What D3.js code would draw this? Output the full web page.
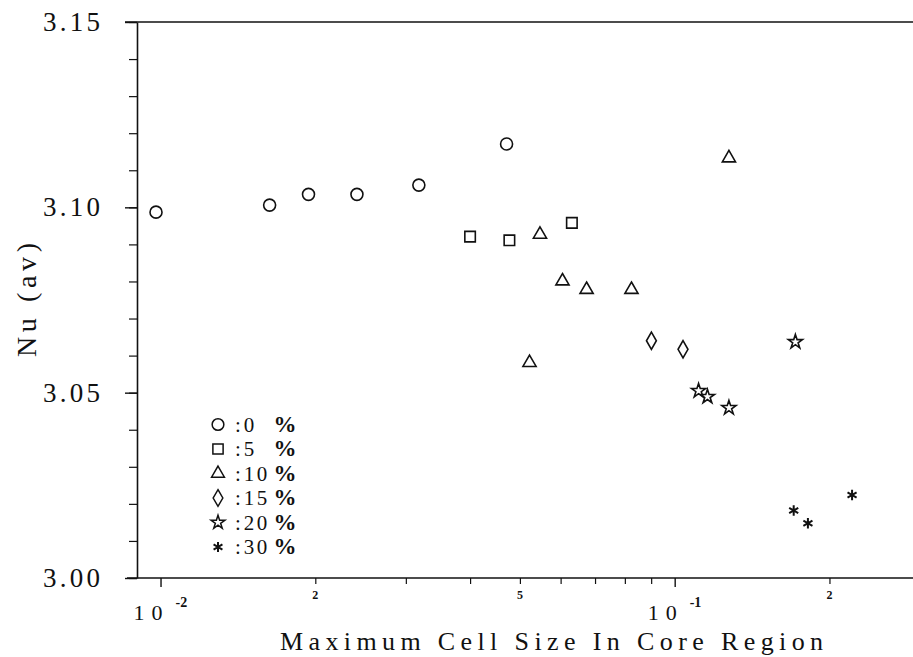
<!DOCTYPE html>
<html>
<head>
<meta charset="utf-8">
<script src="https://cdn.jsdelivr.net/npm/d3@7"></script>
<style>
	body { margin: 0; background: #fff; }
	svg { display: block; }
</style>
</head>
<body>
<script>
// Nu (av) against max cell size in the core region, one series per percentage
const groups = ["0 %", "5 %", "10%", "15%", "20%", "30%"];
const pct0 = [[0.0098, 3.0987], [0.0163, 3.1006], [0.0194, 3.1035], [0.0241, 3.1035], [0.0318, 3.1060], [0.0471, 3.1171]];
const pct5 = [[0.0400, 3.0921], [0.0477, 3.0911], [0.0631, 3.0958]];
const pct10 = [[0.0547, 3.0927], [0.0605, 3.0801], [0.0674, 3.0778], [0.0824, 3.0778], [0.0522, 3.0581], [0.1275, 3.1133]];
const pct15 = [[0.0901, 3.0640], [0.1038, 3.0617]];
const pct20 = [[0.1113, 3.0505], [0.1158, 3.0489], [0.1275, 3.0459], [0.1717, 3.0637]];
const pct30 = [[0.1704, 3.0182], [0.1816, 3.0148], [0.2213, 3.0224]];

const yMajorTicks = [3.00, 3.05, 3.10, 3.15];
const yMinorTicks = [3.00, 3.01, 3.02, 3.03, 3.04, 3.05, 3.06, 3.07, 3.08, 3.09, 3.10, 3.11, 3.12, 3.13, 3.14, 3.15];
const xDecadeTicks = [0.01, 0.1];
const xMinorTicks = [0.02, 0.03, 0.04, 0.05, 0.06, 0.07, 0.08, 0.09, 0.2];
const xSmallLabels = [[0.02, "2"], [0.05, "5"], [0.2, "2"]];
const xPowerLabels = [[0.01, "10", "-2"], [0.1, "10", "-1"]];

const width = 913;
const height = 657;
const margin = { top: 22, right: -7, bottom: 79, left: 137 };
const font = "'Liberation Serif', 'Times New Roman', serif";

// custom six-armed asterisk marker
const symbolAsterisk = {
	draw(context, size) {
		const r = Math.sqrt(size) / 2;
		for (const a of [90, 30, -30]) {
			const dx = r * Math.cos(a * Math.PI / 180);
			const dy = r * Math.sin(a * Math.PI / 180);
			context.moveTo(-dx, -dy);
			context.lineTo(dx, dy);
		}
	}
};

const series = [pct0, pct5, pct10, pct15, pct20, pct30];
const markers = [
	{ type: d3.symbolCircle, size: 113 },
	{ type: d3.symbolSquare, size: 110 },
	{ type: d3.symbolTriangle, size: 75 },
	{ type: d3.symbolDiamond, size: 85 },
	{ type: d3.symbolStar, size: 62 },
	{ type: symbolAsterisk, size: 110 },
];

const svg = d3.select("body")
	.append("svg")
	.attr("width", width)
	.attr("height", height)
	.style("font-family", font);

const x = d3.scaleLog()
	.domain([0.009, 0.3])
	.range([margin.left, width - margin.right]);
const y = d3.scaleLinear()
	.domain([3.0, 3.15])
	.range([height - margin.bottom, margin.top]);

// top border
svg.append("line")
	.attr("x1", margin.left - 12)
	.attr("x2", width - margin.right)
	.attr("y1", y(3.15))
	.attr("y2", y(3.15))
	.attr("stroke", "#111")
	.attr("stroke-width", 1.6);

// y axis: minor ticks then labelled majors
svg.append("g")
	.attr("transform", `translate(${margin.left},0)`)
	.call(d3.axisLeft(y).tickValues(yMinorTicks).tickSize(8).tickFormat(""))
	.call(g => g.select(".domain").remove())
	.call(g => g.selectAll("line").attr("stroke", "#111").attr("stroke-width", 1.2));

const yAxis = svg.append("g")
	.attr("transform", `translate(${margin.left},0)`)
	.call(d3.axisLeft(y).tickValues(yMajorTicks).tickSize(12).tickSizeOuter(0).tickPadding(25).tickFormat(d3.format(".2f")));
yAxis.select(".domain").attr("stroke", "#111").attr("stroke-width", 1.6);
yAxis.selectAll("line").attr("stroke", "#111").attr("stroke-width", 1.4);
yAxis.selectAll("text")
	.attr("fill", "#111")
	.style("font-family", font)
	.style("font-size", "27px")
	.attr("textLength", 57)
	.attr("lengthAdjust", "spacing");

// x axis
const xAxisY = height - margin.bottom;
svg.append("g")
	.attr("transform", `translate(0,${xAxisY})`)
	.call(d3.axisBottom(x).tickValues(xMinorTicks).tickSize(6).tickFormat(""))
	.call(g => g.select(".domain").remove())
	.call(g => g.selectAll("line").attr("stroke", "#111").attr("stroke-width", 1.2));

const xAxis = svg.append("g")
	.attr("transform", `translate(0,${xAxisY})`)
	.call(d3.axisBottom(x).tickValues(xDecadeTicks).tickSize(9).tickSizeOuter(0).tickFormat(""));
xAxis.select(".domain")
	.attr("d", `M${margin.left - 10},0H${width - margin.right}`)
	.attr("stroke", "#111")
	.attr("stroke-width", 1.6);
xAxis.selectAll("line").attr("stroke", "#111").attr("stroke-width", 1.4);

svg.append("g")
	.selectAll("text")
	.data(xSmallLabels)
	.enter()
	.append("text")
	.attr("x", d => x(d[0]))
	.attr("y", xAxisY + 21)
	.attr("text-anchor", "middle")
	.style("font-size", "12px")
	.style("font-weight", "bold")
	.attr("fill", "#111")
	.text(d => d[1]);

const powers = svg.append("g")
	.selectAll("g")
	.data(xPowerLabels)
	.enter()
	.append("g")
	.attr("transform", d => `translate(${x(d[0])},${xAxisY + 42})`);
powers.append("text")
	.attr("x", 2)
	.attr("text-anchor", "end")
	.style("font-size", "22px")
	.attr("textLength", 29)
	.attr("fill", "#111")
	.text(d => d[1]);
powers.append("text")
	.attr("x", 15)
	.attr("y", -13)
	.style("font-size", "14px")
	.style("font-weight", "bold")
	.attr("fill", "#111")
	.text(d => d[2]);

// axis titles
svg.append("text")
	.attr("x", 280)
	.attr("y", 650)
	.attr("textLength", 543)
	.attr("lengthAdjust", "spacing")
	.style("font-size", "26px")
	.attr("fill", "#111")
	.text("Maximum Cell Size In Core Region");

svg.append("text")
	.attr("transform", "translate(36,357) rotate(-90)")
	.attr("textLength", 114)
	.attr("lengthAdjust", "spacing")
	.style("font-size", "28px")
	.attr("fill", "#111")
	.text("Nu (av)");

// markers
const symbol = d3.symbol();
series.forEach((points, i) => {
	svg.append("g")
		.selectAll("path")
		.data(points)
		.enter()
		.append("path")
		.attr("transform", d => `translate(${x(d[0])},${y(d[1])})`)
		.attr("d", symbol.type(markers[i].type).size(markers[i].size)())
		.attr("fill", "none")
		.attr("stroke", "#111")
		.attr("stroke-width", i === 5 ? 2 : 1.6);
});

// legend
const legendX = 218;
const legendY = 424.5;
const legendStep = 24.5;
const charX = [238, 249, 262, 285];
const legend = svg.append("g")
	.selectAll("g")
	.data(groups)
	.enter()
	.append("g")
	.attr("transform", (d, i) => `translate(0,${legendY + i * legendStep})`);
legend.append("path")
	.attr("transform", `translate(${legendX},0)`)
	.attr("d", (d, i) => symbol.type(markers[i].type).size(markers[i].size * 0.95)())
	.attr("fill", "none")
	.attr("stroke", "#111")
	.attr("stroke-width", (d, i) => i === 5 ? 2 : 1.5);
legend.selectAll("text")
	.data(d => (":" + d).split(""))
	.enter()
	.append("text")
	.attr("x", (c, j) => charX[j])
	.attr("y", 7)
	.attr("text-anchor", "middle")
	.style("font-size", (c) => c === "%" ? "23px" : "21px")
	.style("font-weight", (c) => c === "%" ? "bold" : "normal")
	.attr("fill", "#111")
	.text(c => c);
</script>
</body>
</html>
